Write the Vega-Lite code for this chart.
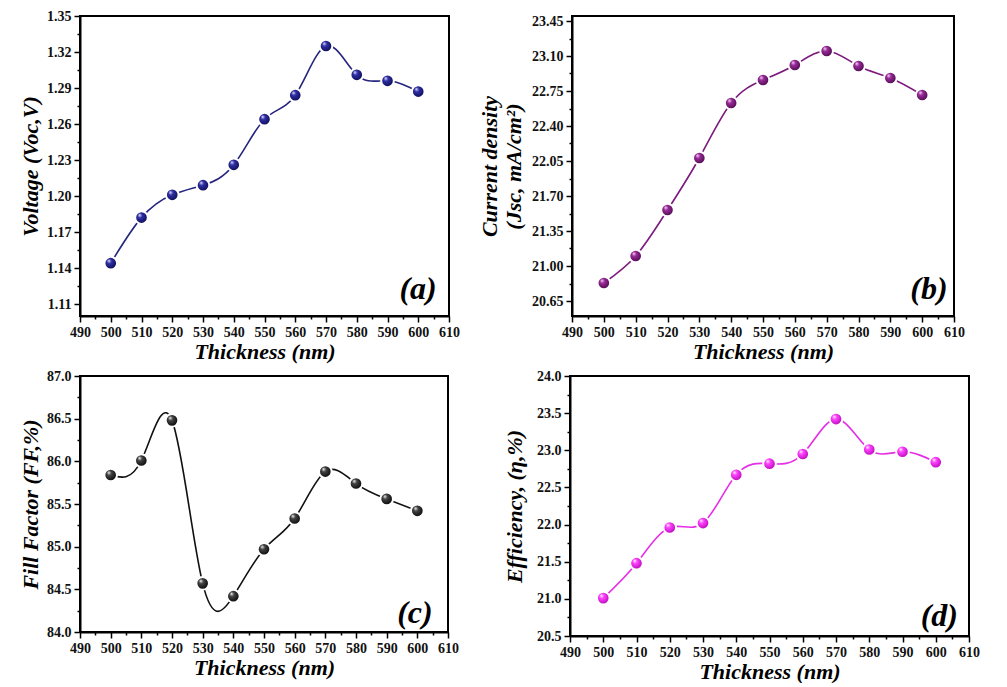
{
  "$schema": "https://vega.github.io/schema/vega-lite/v6.json",
  "background": "white",
  "padding": {"left": 18, "top": 8, "right": 5, "bottom": 0},
  "datasets": {
    "pv": [
      {"t": 500, "Voc": 1.144, "Jsc": 20.83, "FF": 85.84, "PCE": 21.01},
      {"t": 510, "Voc": 1.182, "Jsc": 21.10, "FF": 86.01, "PCE": 21.48},
      {"t": 520, "Voc": 1.201, "Jsc": 21.56, "FF": 86.48, "PCE": 21.96},
      {"t": 530, "Voc": 1.209, "Jsc": 22.08, "FF": 84.57, "PCE": 22.02},
      {"t": 540, "Voc": 1.226, "Jsc": 22.63, "FF": 84.42, "PCE": 22.67},
      {"t": 550, "Voc": 1.264, "Jsc": 22.86, "FF": 84.97, "PCE": 22.82},
      {"t": 560, "Voc": 1.284, "Jsc": 23.01, "FF": 85.33, "PCE": 22.95},
      {"t": 570, "Voc": 1.325, "Jsc": 23.15, "FF": 85.88, "PCE": 23.42},
      {"t": 580, "Voc": 1.301, "Jsc": 23.00, "FF": 85.74, "PCE": 23.01},
      {"t": 590, "Voc": 1.296, "Jsc": 22.88, "FF": 85.56, "PCE": 22.98},
      {"t": 600, "Voc": 1.287, "Jsc": 22.71, "FF": 85.42, "PCE": 22.84}
    ],
    "la": [{"lab": "(a)"}],
    "lb": [{"lab": "(b)"}],
    "lc": [{"lab": "(c)"}],
    "ld": [{"lab": "(d)"}]
  },
  "config": {
    "font": "Liberation Serif",
    "view": {"stroke": "black", "strokeWidth": 2},
    "axis": {
      "labelFont": "Liberation Serif", "labelFontWeight": "bold", "labelFontSize": 14, "labelColor": "#111",
      "titleFont": "Liberation Serif", "titleFontWeight": "bold", "titleFontStyle": "italic", "titleFontSize": 22, "titleColor": "black",
      "domainColor": "black", "domainWidth": 2, "tickColor": "black", "tickWidth": 1.5, "grid": false,
      "labelPadding": 3, "labelOverlap": false, "labelFlush": false
    },
    "text": {"font": "Liberation Serif", "fontSize": 32, "fontWeight": "bold", "fontStyle": "italic", "color": "black", "align": "right", "baseline": "alphabetic"}
  },
  "spacing": 5,
  "vconcat": [
    {
      "spacing": 16,
      "hconcat": [
        {
          "width": 369, "height": 300,
          "layer": [
            {
              "data": {"name": "pv"},
              "encoding": {
                "x": {"field": "t", "type": "quantitative", "scale": {"domain": [490, 610], "nice": false, "zero": false},
                  "axis": {"title": "Thickness (nm)", "titlePadding": 2, "values": [490,495,500,505,510,515,520,525,530,535,540,545,550,555,560,565,570,575,580,585,590,595,600,605,610],
                    "labelExpr": "datum.value % 10 == 0 ? datum.label : ''",
                    "tickSize": {"condition": {"test": "datum.value % 10 == 0", "value": 6}, "value": 3}}},
                "y": {"field": "Voc", "type": "quantitative", "scale": {"domain": [1.10, 1.35], "nice": false, "zero": false},
                  "axis": {"title": "Voltage (Voc,V)", "titlePadding": 4, "format": ".2f",
                    "values": [1.11,1.125,1.14,1.155,1.17,1.185,1.2,1.215,1.23,1.245,1.26,1.275,1.29,1.305,1.32,1.335,1.35],
                    "labelExpr": "abs(datum.value*100 - round(datum.value*100)) < 0.1 ? datum.label : ''",
                    "tickSize": {"condition": {"test": "abs(datum.value*100 - round(datum.value*100)) < 0.1", "value": 6}, "value": 3}}}
              },
              "layer": [
                {"mark": {"type": "line", "interpolate": "natural", "color": "#25257f", "strokeWidth": 1.6}},
                {"mark": {"type": "point", "filled": true, "size": 160, "opacity": 1, "stroke": "white", "strokeWidth": 2,
                  "fill": {"gradient": "radial", "x1": 0.35, "y1": 0.3, "r1": 0, "x2": 0.45, "y2": 0.45, "r2": 0.6,
                    "stops": [{"offset": 0, "color": "#eeeeff"}, {"offset": 0.3, "color": "#2f2fa8"}, {"offset": 1, "color": "#080848"}]}}}
              ]
            },
            {"data": {"name": "la"}, "mark": {"type": "text"},
              "encoding": {
                "x": {"datum": 606, "type": "quantitative", "scale": {"domain": [490, 610], "nice": false, "zero": false},
                  "axis": {"title": "Thickness (nm)", "titlePadding": 2, "values": [490,495,500,505,510,515,520,525,530,535,540,545,550,555,560,565,570,575,580,585,590,595,600,605,610],
                    "labelExpr": "datum.value % 10 == 0 ? datum.label : ''",
                    "tickSize": {"condition": {"test": "datum.value % 10 == 0", "value": 6}, "value": 3}}},
                "y": {"datum": 1.114, "type": "quantitative", "scale": {"domain": [1.10, 1.35], "nice": false, "zero": false},
                  "axis": {"title": "Voltage (Voc,V)", "titlePadding": 4, "format": ".2f",
                    "values": [1.11,1.125,1.14,1.155,1.17,1.185,1.2,1.215,1.23,1.245,1.26,1.275,1.29,1.305,1.32,1.335,1.35],
                    "labelExpr": "abs(datum.value*100 - round(datum.value*100)) < 0.1 ? datum.label : ''",
                    "tickSize": {"condition": {"test": "abs(datum.value*100 - round(datum.value*100)) < 0.1", "value": 6}, "value": 3}}},
                "text": {"field": "lab", "type": "nominal"}}}
          ]
        },
        {
          "width": 382, "height": 300,
          "layer": [
            {
              "data": {"name": "pv"},
              "encoding": {
                "x": {"field": "t", "type": "quantitative", "scale": {"domain": [490, 610], "nice": false, "zero": false},
                  "axis": {"title": "Thickness (nm)", "titlePadding": 2, "values": [490,495,500,505,510,515,520,525,530,535,540,545,550,555,560,565,570,575,580,585,590,595,600,605,610],
                    "labelExpr": "datum.value % 10 == 0 ? datum.label : ''",
                    "tickSize": {"condition": {"test": "datum.value % 10 == 0", "value": 6}, "value": 3}}},
                "y": {"field": "Jsc", "type": "quantitative", "scale": {"domain": [20.5, 23.5], "nice": false, "zero": false},
                  "axis": {"title": ["Current density", "(Jsc, mA/cm²)"], "titlePadding": 6, "format": ".2f",
                    "values": [20.65,20.825,21.0,21.175,21.35,21.525,21.7,21.875,22.05,22.225,22.4,22.575,22.75,22.925,23.1,23.275,23.45],
                    "labelExpr": "abs(datum.value*100 - round(datum.value*100)) < 0.1 ? datum.label : ''",
                    "tickSize": {"condition": {"test": "abs(datum.value*100 - round(datum.value*100)) < 0.1", "value": 6}, "value": 3}}}
              },
              "layer": [
                {"mark": {"type": "line", "interpolate": "natural", "color": "#7d1a7d", "strokeWidth": 1.6}},
                {"mark": {"type": "point", "filled": true, "size": 160, "opacity": 1, "stroke": "white", "strokeWidth": 2,
                  "fill": {"gradient": "radial", "x1": 0.35, "y1": 0.3, "r1": 0, "x2": 0.45, "y2": 0.45, "r2": 0.6,
                    "stops": [{"offset": 0, "color": "#ffe8ff"}, {"offset": 0.3, "color": "#9a2a9a"}, {"offset": 1, "color": "#420842"}]}}}
              ]
            },
            {"data": {"name": "lb"}, "mark": {"type": "text"},
              "encoding": {
                "x": {"datum": 608, "type": "quantitative", "scale": {"domain": [490, 610], "nice": false, "zero": false},
                  "axis": {"title": "Thickness (nm)", "titlePadding": 2, "values": [490,495,500,505,510,515,520,525,530,535,540,545,550,555,560,565,570,575,580,585,590,595,600,605,610],
                    "labelExpr": "datum.value % 10 == 0 ? datum.label : ''",
                    "tickSize": {"condition": {"test": "datum.value % 10 == 0", "value": 6}, "value": 3}}},
                "y": {"datum": 20.67, "type": "quantitative", "scale": {"domain": [20.5, 23.5], "nice": false, "zero": false},
                  "axis": {"title": ["Current density", "(Jsc, mA/cm²)"], "titlePadding": 6, "format": ".2f",
                    "values": [20.65,20.825,21.0,21.175,21.35,21.525,21.7,21.875,22.05,22.225,22.4,22.575,22.75,22.925,23.1,23.275,23.45],
                    "labelExpr": "abs(datum.value*100 - round(datum.value*100)) < 0.1 ? datum.label : ''",
                    "tickSize": {"condition": {"test": "abs(datum.value*100 - round(datum.value*100)) < 0.1", "value": 6}, "value": 3}}},
                "text": {"field": "lab", "type": "nominal"}}}
          ]
        }
      ]
    },
    {
      "spacing": 42,
      "hconcat": [
        {
          "width": 368, "height": 256,
          "layer": [
            {
              "data": {"name": "pv"},
              "encoding": {
                "x": {"field": "t", "type": "quantitative", "scale": {"domain": [490, 610], "nice": false, "zero": false},
                  "axis": {"title": "Thickness (nm)", "titlePadding": 2, "values": [490,495,500,505,510,515,520,525,530,535,540,545,550,555,560,565,570,575,580,585,590,595,600,605,610],
                    "labelExpr": "datum.value % 10 == 0 ? datum.label : ''",
                    "tickSize": {"condition": {"test": "datum.value % 10 == 0", "value": 6}, "value": 3}}},
                "y": {"field": "FF", "type": "quantitative", "scale": {"domain": [84.0, 87.0], "nice": false, "zero": false},
                  "axis": {"title": "Fill Factor (FF,%)", "titlePadding": 4, "format": ".1f",
                    "values": [84.0,84.25,84.5,84.75,85.0,85.25,85.5,85.75,86.0,86.25,86.5,86.75,87.0],
                    "labelExpr": "abs(datum.value*10 - round(datum.value*10)) < 0.1 ? datum.label : ''",
                    "tickSize": {"condition": {"test": "abs(datum.value*10 - round(datum.value*10)) < 0.1", "value": 6}, "value": 3}}}
              },
              "layer": [
                {"mark": {"type": "line", "interpolate": "natural", "color": "#111111", "strokeWidth": 1.6}},
                {"mark": {"type": "point", "filled": true, "size": 160, "opacity": 1, "stroke": "white", "strokeWidth": 2,
                  "fill": {"gradient": "radial", "x1": 0.35, "y1": 0.3, "r1": 0, "x2": 0.45, "y2": 0.45, "r2": 0.6,
                    "stops": [{"offset": 0, "color": "#ffffff"}, {"offset": 0.3, "color": "#444444"}, {"offset": 1, "color": "#000000"}]}}}
              ]
            },
            {"data": {"name": "lc"}, "mark": {"type": "text"},
              "encoding": {
                "x": {"datum": 605, "type": "quantitative", "scale": {"domain": [490, 610], "nice": false, "zero": false},
                  "axis": {"title": "Thickness (nm)", "titlePadding": 2, "values": [490,495,500,505,510,515,520,525,530,535,540,545,550,555,560,565,570,575,580,585,590,595,600,605,610],
                    "labelExpr": "datum.value % 10 == 0 ? datum.label : ''",
                    "tickSize": {"condition": {"test": "datum.value % 10 == 0", "value": 6}, "value": 3}}},
                "y": {"datum": 84.11, "type": "quantitative", "scale": {"domain": [84.0, 87.0], "nice": false, "zero": false},
                  "axis": {"title": "Fill Factor (FF,%)", "titlePadding": 4, "format": ".1f",
                    "values": [84.0,84.25,84.5,84.75,85.0,85.25,85.5,85.75,86.0,86.25,86.5,86.75,87.0],
                    "labelExpr": "abs(datum.value*10 - round(datum.value*10)) < 0.1 ? datum.label : ''",
                    "tickSize": {"condition": {"test": "abs(datum.value*10 - round(datum.value*10)) < 0.1", "value": 6}, "value": 3}}},
                "text": {"field": "lab", "type": "nominal"}}}
          ]
        },
        {
          "width": 399, "height": 260,
          "layer": [
            {
              "data": {"name": "pv"},
              "encoding": {
                "x": {"field": "t", "type": "quantitative", "scale": {"domain": [490, 610], "nice": false, "zero": false},
                  "axis": {"title": "Thickness (nm)", "titlePadding": 2, "values": [490,495,500,505,510,515,520,525,530,535,540,545,550,555,560,565,570,575,580,585,590,595,600,605,610],
                    "labelExpr": "datum.value % 10 == 0 ? datum.label : ''",
                    "tickSize": {"condition": {"test": "datum.value % 10 == 0", "value": 6}, "value": 3}}},
                "y": {"field": "PCE", "type": "quantitative", "scale": {"domain": [20.5, 24.0], "nice": false, "zero": false},
                  "axis": {"title": "Efficiency, (η,%)", "titlePadding": 10, "format": ".1f",
                    "values": [20.5,20.75,21.0,21.25,21.5,21.75,22.0,22.25,22.5,22.75,23.0,23.25,23.5,23.75,24.0],
                    "labelExpr": "abs(datum.value*10 - round(datum.value*10)) < 0.1 ? datum.label : ''",
                    "tickSize": {"condition": {"test": "abs(datum.value*10 - round(datum.value*10)) < 0.1", "value": 6}, "value": 3}}}
              },
              "layer": [
                {"mark": {"type": "line", "interpolate": "natural", "color": "#e52ee5", "strokeWidth": 1.6}},
                {"mark": {"type": "point", "filled": true, "size": 160, "opacity": 1, "stroke": "white", "strokeWidth": 2,
                  "fill": {"gradient": "radial", "x1": 0.35, "y1": 0.3, "r1": 0, "x2": 0.45, "y2": 0.45, "r2": 0.6,
                    "stops": [{"offset": 0, "color": "#ffffff"}, {"offset": 0.3, "color": "#ff44ff"}, {"offset": 1, "color": "#b000b0"}]}}}
              ]
            },
            {"data": {"name": "ld"}, "mark": {"type": "text"},
              "encoding": {
                "x": {"datum": 606.7, "type": "quantitative", "scale": {"domain": [490, 610], "nice": false, "zero": false},
                  "axis": {"title": "Thickness (nm)", "titlePadding": 2, "values": [490,495,500,505,510,515,520,525,530,535,540,545,550,555,560,565,570,575,580,585,590,595,600,605,610],
                    "labelExpr": "datum.value % 10 == 0 ? datum.label : ''",
                    "tickSize": {"condition": {"test": "datum.value % 10 == 0", "value": 6}, "value": 3}}},
                "y": {"datum": 20.64, "type": "quantitative", "scale": {"domain": [20.5, 24.0], "nice": false, "zero": false},
                  "axis": {"title": "Efficiency, (η,%)", "titlePadding": 10, "format": ".1f",
                    "values": [20.5,20.75,21.0,21.25,21.5,21.75,22.0,22.25,22.5,22.75,23.0,23.25,23.5,23.75,24.0],
                    "labelExpr": "abs(datum.value*10 - round(datum.value*10)) < 0.1 ? datum.label : ''",
                    "tickSize": {"condition": {"test": "abs(datum.value*10 - round(datum.value*10)) < 0.1", "value": 6}, "value": 3}}},
                "text": {"field": "lab", "type": "nominal"}}}
          ]
        }
      ]
    }
  ]
}
